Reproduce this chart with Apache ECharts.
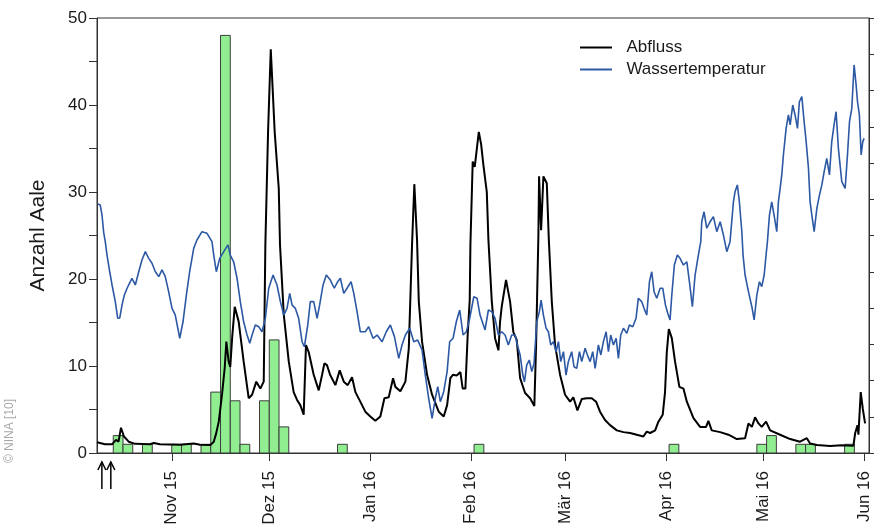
<!DOCTYPE html>
<html><head><meta charset="utf-8">
<script src="https://cdn.jsdelivr.net/npm/echarts@6/dist/echarts.min.js"></script>
<style>html,body{margin:0;padding:0;background:#fff}#c{width:874px;height:528px}</style>
</head><body><div id="c"></div>
<script>
// ---- data ----
const monthTicks = ['2015-11-01','2015-12-01','2016-01-01','2016-02-01','2016-03-01','2016-04-01','2016-05-01','2016-06-01'];
const monthLabels = ['Nov 15','Dez 15','Jan 16','Feb 16','Mär 16','Apr 16','Mai 16','Jun 16'];
const arrowDates = ['2015-10-10 12','2015-10-13 06'];

// eel counts in 3-day bins (start date of each bin)
const binDays = 3;
const binStart = ['2015-10-14','2015-10-17','2015-10-23','2015-11-01','2015-11-04','2015-11-10','2015-11-13','2015-11-16','2015-11-19','2015-11-22','2015-11-28','2015-12-01','2015-12-04','2015-12-22','2016-02-02','2016-04-02','2016-04-29','2016-05-02','2016-05-11','2016-05-14','2016-05-26'];
const aale = [2,1,1,1,1,1,7,48,6,1,6,13,3,1,1,1,1,2,1,1,1];

const abflussZeit = [
'2015-10-09 00','2015-10-11 11','2015-10-13 15','2015-10-14 20','2015-10-15 15','2015-10-16 09','2015-10-17 07','2015-10-18 18','2015-10-20 17','2015-10-25 07',
'2015-10-26 11','2015-10-28 09','2015-11-03 13','2015-11-07 18','2015-11-09 17','2015-11-12 21','2015-11-13 22','2015-11-14 15','2015-11-15 11','2015-11-16 11',
'2015-11-17 07','2015-11-17 19','2015-11-18 12','2015-11-19 00','2015-11-19 15','2015-11-20 09','2015-11-21 14','2015-11-23 03','2015-11-24 16','2015-11-25 17',
'2015-11-27 00','2015-11-28 06','2015-11-29 07','2015-11-29 19','2015-11-30 15','2015-12-01 11','2015-12-02 16','2015-12-03 22','2015-12-04 07','2015-12-05 11',
'2015-12-07 00','2015-12-08 12','2015-12-09 13','2015-12-10 13','2015-12-11 14','2015-12-12 07','2015-12-13 03','2015-12-14 16','2015-12-16 05','2015-12-17 06',
'2015-12-17 23','2015-12-18 18','2015-12-19 17','2015-12-21 08','2015-12-22 16','2015-12-23 22','2015-12-25 03','2015-12-26 11','2015-12-27 12','2015-12-29 00',
'2015-12-30 13','2016-01-01 02','2016-01-02 15','2016-01-04 04','2016-01-05 10','2016-01-06 18','2016-01-08 02','2016-01-08 19','2016-01-10 08','2016-01-11 21',
'2016-01-12 22','2016-01-13 22','2016-01-14 15','2016-01-15 11','2016-01-16 00','2016-01-17 00','2016-01-18 13','2016-01-20 02','2016-01-22 03','2016-01-23 16',
'2016-01-24 17','2016-01-25 17','2016-01-26 13','2016-01-27 16','2016-01-28 19','2016-01-29 12','2016-01-30 08','2016-01-31 01','2016-01-31 16','2016-01-31 21',
'2016-02-01 14','2016-02-02 05','2016-02-03 11','2016-02-04 04','2016-02-04 21','2016-02-05 22','2016-02-06 10','2016-02-07 11','2016-02-08 11','2016-02-09 12',
'2016-02-10 00','2016-02-10 12','2016-02-11 20','2016-02-13 02','2016-02-14 02','2016-02-15 03','2016-02-16 04','2016-02-17 17','2016-02-19 06','2016-02-20 13',
'2016-02-21 02','2016-02-21 19','2016-02-22 00','2016-02-22 15','2016-02-23 08','2016-02-24 09','2016-02-25 00','2016-02-25 22','2016-02-26 22','2016-02-28 11',
'2016-03-01 00','2016-03-02 13','2016-03-03 13','2016-03-04 19','2016-03-06 03','2016-03-07 16','2016-03-09 05','2016-03-10 13','2016-03-11 18','2016-03-13 07',
'2016-03-14 20','2016-03-16 22','2016-03-18 23','2016-03-21 00','2016-03-23 01','2016-03-25 02','2016-03-26 03','2016-03-27 04','2016-03-28 17','2016-03-29 17',
'2016-03-31 01','2016-03-31 18','2016-04-01 07','2016-04-01 22','2016-04-02 20','2016-04-03 20','2016-04-05 04','2016-04-06 10','2016-04-07 11','2016-04-09 12',
'2016-04-11 13','2016-04-13 09','2016-04-14 02','2016-04-15 03','2016-04-17 17','2016-04-20 06','2016-04-22 20','2016-04-25 09','2016-04-26 10','2016-04-27 11',
'2016-04-28 11','2016-04-29 12','2016-04-30 12','2016-05-01 20','2016-05-03 02','2016-05-06 04','2016-05-09 06','2016-05-12 07','2016-05-14 09','2016-05-15 09',
'2016-05-17 11','2016-05-21 13','2016-05-25 03','2016-05-28 17','2016-05-29 06','2016-05-29 23','2016-05-30 06','2016-05-30 23','2016-05-31 14','2016-06-01 07'];
const abflussWert = [
1.23,1.0,1.0,1.5,1.3,2.9,1.9,1.3,1.05,1.0,
1.15,1.0,0.95,1.1,0.95,0.92,1.3,2.2,3.6,6.7,
9.8,12.8,10.5,9.9,13.5,16.8,15.1,10.5,6.3,6.7,
8.2,7.4,8.2,23.9,36.9,46.4,36.9,30.4,24.0,15.9,
10.5,7.0,6.1,5.5,4.4,12.4,11.6,9.0,7.2,9.0,
10.3,10.1,9.0,7.8,9.5,8.2,7.8,8.7,7.0,5.9,
4.75,4.2,3.7,4.2,6.3,6.4,8.6,7.6,7.1,8.2,
12.0,23.9,30.9,24.5,17.4,12.8,9.0,6.7,4.75,4.2,
5.5,8.6,9.0,8.9,9.3,7.4,7.4,13.6,17.6,23.9,
33.5,32.9,36.9,35.5,33.1,30.0,24.5,17.4,13.2,11.8,
15.1,16.8,19.9,17.4,13.9,13.0,8.6,6.9,6.3,5.4,
12.4,25.0,31.8,25.6,31.8,31.0,24.5,17.4,12.4,9.0,
6.7,5.9,6.4,4.9,6.2,6.3,6.3,5.9,4.75,3.8,
3.2,2.6,2.4,2.3,2.1,1.9,2.45,2.3,2.6,3.6,
4.4,7.0,11.6,14.25,13.2,10.5,7.6,7.4,5.9,4.0,
3.0,3.0,3.7,2.6,2.4,2.1,1.6,1.7,3.4,3.0,
4.1,3.4,3.0,3.6,2.6,2.1,1.6,1.3,1.7,1.1,
0.92,0.8,0.9,0.84,2.3,3.2,2.1,7.0,5.1,3.4];

const tempZeit = [
'2015-10-09 07','2015-10-10 00','2015-10-10 13','2015-10-11 01','2015-10-11 13','2015-10-12 02','2015-10-12 22','2015-10-13 15','2015-10-14 15','2015-10-15 09',
'2015-10-16 00','2015-10-16 17','2015-10-17 10','2015-10-18 06','2015-10-19 06','2015-10-19 18','2015-10-20 19','2015-10-21 20','2015-10-22 20','2015-10-23 21',
'2015-10-24 22','2015-10-25 22','2015-10-26 23','2015-10-28 00','2015-10-29 00','2015-10-30 00','2015-10-31 01','2015-11-01 02','2015-11-02 02','2015-11-03 11',
'2015-11-04 11','2015-11-05 12','2015-11-06 12','2015-11-07 18','2015-11-08 18','2015-11-10 07','2015-11-11 20','2015-11-13 09','2015-11-13 22','2015-11-14 17',
'2015-11-15 18','2015-11-17 00','2015-11-18 07','2015-11-19 00','2015-11-20 01','2015-11-21 02','2015-11-22 02','2015-11-23 03','2015-11-24 04','2015-11-25 00',
'2015-11-25 17','2015-11-26 17','2015-11-27 18','2015-11-28 18','2015-11-29 19','2015-11-30 20','2015-12-02 04','2015-12-03 09','2015-12-04 10','2015-12-05 11',
'2015-12-06 11','2015-12-07 07','2015-12-08 00','2015-12-09 00','2015-12-10 01','2015-12-11 02','2015-12-11 19','2015-12-12 20','2015-12-13 15','2015-12-14 16',
'2015-12-15 17','2015-12-16 12','2015-12-17 13','2015-12-18 13','2015-12-19 19','2015-12-21 00','2015-12-22 01','2015-12-22 21','2015-12-23 22','2015-12-24 22',
'2015-12-26 04','2015-12-27 00','2015-12-28 00','2015-12-29 00','2015-12-30 13','2015-12-31 14','2016-01-01 22','2016-01-03 04','2016-01-04 17','2016-01-06 00',
'2016-01-07 06','2016-01-08 12','2016-01-09 20','2016-01-10 20','2016-01-11 21','2016-01-13 05','2016-01-14 11','2016-01-15 16','2016-01-17 00','2016-01-18 00',
'2016-01-19 01','2016-01-20 02','2016-01-21 02','2016-01-21 20','2016-01-22 15','2016-01-23 16','2016-01-24 17','2016-01-25 12','2016-01-26 13','2016-01-27 13',
'2016-01-28 14','2016-01-29 15','2016-01-30 15','2016-01-31 16','2016-02-01 22','2016-02-02 22','2016-02-03 20','2016-02-04 21','2016-02-05 09','2016-02-06 10',
'2016-02-07 11','2016-02-08 11','2016-02-09 12','2016-02-10 12','2016-02-11 13','2016-02-12 13','2016-02-13 14','2016-02-14 15','2016-02-15 08','2016-02-16 04',
'2016-02-17 00','2016-02-17 12','2016-02-18 05','2016-02-19 00','2016-02-19 18','2016-02-20 11','2016-02-21 07','2016-02-22 02','2016-02-22 15','2016-02-23 08',
'2016-02-24 04','2016-02-24 21','2016-02-25 14','2016-02-26 10','2016-02-27 06','2016-02-27 23','2016-02-28 16','2016-02-29 12','2016-03-01 07','2016-03-02 00',
'2016-03-03 01','2016-03-03 18','2016-03-04 14','2016-03-05 10','2016-03-06 03','2016-03-07 04','2016-03-07 21','2016-03-08 17','2016-03-09 12','2016-03-10 06',
'2016-03-11 06','2016-03-12 00','2016-03-12 19','2016-03-13 15','2016-03-14 08','2016-03-15 01','2016-03-15 21','2016-03-16 17','2016-03-17 10','2016-03-18 03',
'2016-03-18 23','2016-03-20 00','2016-03-20 19','2016-03-21 20','2016-03-22 20','2016-03-23 13','2016-03-24 14','2016-03-25 07','2016-03-26 03','2016-03-26 23',
'2016-03-27 16','2016-03-28 09','2016-03-29 05','2016-03-30 06','2016-03-31 01','2016-03-31 21','2016-04-01 14','2016-04-02 07','2016-04-02 20','2016-04-03 15',
'2016-04-04 13','2016-04-05 09','2016-04-06 10','2016-04-07 11','2016-04-08 06','2016-04-09 04','2016-04-10 00','2016-04-11 00','2016-04-11 18','2016-04-12 01',
'2016-04-12 18','2016-04-13 14','2016-04-14 15','2016-04-15 15','2016-04-16 16','2016-04-17 17','2016-04-18 17','2016-04-19 18','2016-04-20 18','2016-04-21 07',
'2016-04-21 19','2016-04-22 07','2016-04-23 00','2016-04-23 15','2016-04-24 09','2016-04-24 18','2016-04-25 09','2016-04-26 10','2016-04-27 11','2016-04-28 04',
'2016-04-29 00','2016-04-29 19','2016-04-30 12','2016-05-01 06','2016-05-01 20','2016-05-02 06','2016-05-02 21','2016-05-03 14','2016-05-04 07','2016-05-05 03',
'2016-05-05 15','2016-05-06 04','2016-05-06 16','2016-05-07 04','2016-05-08 00','2016-05-08 17','2016-05-09 06','2016-05-10 01','2016-05-10 18','2016-05-11 12',
'2016-05-12 02','2016-05-12 20','2016-05-13 13','2016-05-14 04','2016-05-14 21','2016-05-15 09','2016-05-15 22','2016-05-16 15','2016-05-17 11','2016-05-18 06',
'2016-05-19 00','2016-05-19 17','2016-05-20 12','2016-05-21 08','2016-05-22 01','2016-05-22 18','2016-05-23 09','2016-05-24 02','2016-05-25 03','2016-05-26 04',
'2016-05-26 21','2016-05-27 12','2016-05-28 05','2016-05-28 22','2016-05-29 13','2016-05-29 23','2016-05-30 13','2016-05-31 02','2016-05-31 14','2016-06-01 00'];
const tempWert = [
13.74,13.68,13.13,12.19,11.66,10.92,10.00,9.27,8.35,7.43,
7.45,8.17,8.72,9.09,9.45,9.64,9.27,10.00,10.65,11.11,
10.74,10.47,10.00,9.73,10.10,9.73,8.90,7.98,7.61,6.33,
7.24,8.72,10.00,11.29,11.75,12.21,12.12,11.66,10.92,10.00,
10.74,11.11,11.48,10.92,10.55,9.64,8.35,7.24,6.51,6.05,
6.51,7.06,6.97,6.69,7.43,9.09,9.82,9.27,8.35,7.61,
7.98,8.81,8.17,7.98,7.43,6.14,5.86,7.06,8.35,8.35,
7.43,8.17,9.27,9.82,9.54,9.09,9.45,9.64,8.81,9.09,
9.45,8.81,7.80,6.69,6.69,6.97,6.33,6.51,6.14,6.69,
7.06,6.42,5.22,5.96,6.51,6.88,6.14,6.23,5.68,4.30,
3.02,1.91,3.02,3.66,2.83,3.38,4.49,6.14,6.33,7.24,
7.89,6.51,6.69,7.43,8.62,8.54,7.61,7.06,6.79,7.89,
7.80,7.43,6.51,6.69,6.51,5.96,6.51,6.51,5.96,5.41,
4.30,3.93,4.86,5.13,4.49,4.95,7.24,7.80,8.44,7.61,
6.88,6.69,5.96,6.14,5.59,6.14,5.04,5.59,4.30,5.04,
5.59,4.76,4.67,5.59,5.04,5.78,5.41,5.04,5.59,4.67,
5.96,5.41,6.14,6.69,5.59,6.51,5.96,6.33,5.22,6.51,
6.88,6.60,7.06,6.97,7.43,8.54,8.35,7.98,7.61,9.45,
10.00,8.90,8.54,9.09,9.09,8.17,7.71,7.34,8.72,10.37,
10.92,10.74,10.37,10.55,9.45,8.07,9.82,10.92,11.66,12.76,
13.31,12.40,12.76,13.04,12.21,12.76,12.03,11.11,11.66,11.66,
13.86,14.42,14.79,13.86,12.21,10.92,9.82,8.90,8.07,7.34,
8.72,9.45,9.18,9.82,10.92,11.66,13.13,13.86,13.13,12.21,
13.86,14.60,15.34,16.44,17.91,18.65,18.10,19.20,18.65,17.91,
19.38,19.66,18.28,17.18,15.71,13.86,13.13,12.21,13.50,14.23,
14.79,15.52,16.26,15.34,17.18,18.10,18.83,16.81,14.97,14.60,
16.44,18.28,19.02,21.41,20.30,19.38,18.65,16.44,17.18,17.36];

// ---- helpers ----
function ts(s){const parts=s.split(' ');const p=parts[0].split('-').map(Number);return Date.UTC(p[0],p[1]-1,p[2],parts[1]?Number(parts[1]):0);}
const xMin = ts('2015-10-09'), xMax = ts('2016-06-02 12');
const tickTs = monthTicks.map(ts);
const FONT = '"Liberation Sans", Arial, sans-serif';
const TXT = '#1a1a1a';

const chart = echarts.init(document.getElementById('c'));
chart.setOption({
  animation: false,
  useUTC: true,
  backgroundColor: '#fff',
  grid: {left: 97, right: 5, top: 18, bottom: 75, show: true, borderColor: '#333', borderWidth: 1, backgroundColor: 'transparent'},
  legend: {
    data: [{name: 'Abfluss', icon: 'rect'}, {name: 'Wassertemperatur', icon: 'rect'}],
    orient: 'vertical', left: 580, top: 39, padding: 0,
    itemWidth: 32, itemHeight: 2, itemGap: 5,
    formatter: n => '  ' + n,
    textStyle: {fontFamily: FONT, fontSize: 17, lineHeight: 17, color: TXT}
  },
  xAxis: {
    type: 'value', min: xMin, max: xMax,
    axisLine: {show: true, lineStyle: {color: '#333', width: 1}},
    axisTick: {show: true, length: 8, customValues: tickTs, lineStyle: {color: '#333'}},
    axisLabel: {customValues: tickTs, rotate: 90, margin: 18, fontFamily: FONT, fontSize: 17, color: TXT,
      formatter: v => { const i = tickTs.indexOf(v); return i >= 0 ? monthLabels[i] : ''; }},
    splitLine: {show: false}
  },
  yAxis: [
    {type: 'value', min: 0, max: 50, position: 'left',
     name: 'Anzahl Aale', nameLocation: 'middle', nameGap: 48,
     nameTextStyle: {fontFamily: FONT, fontSize: 21, color: TXT},
     axisLine: {show: true, lineStyle: {color: '#333'}},
     axisTick: {show: true, length: 8, customValues: [0,5,10,15,20,25,30,35,40,45,50], lineStyle: {color: '#333'}},
     axisLabel: {customValues: [0,10,20,30,40,50], margin: 10, fontFamily: FONT, fontSize: 17, color: TXT},
     splitLine: {show: false}},
    {type: 'value', min: 0, max: 24, interval: 2, position: 'right',
     axisLine: {show: true, lineStyle: {color: '#333'}},
     axisTick: {show: true, length: 5, lineStyle: {color: '#333'}},
     axisLabel: {show: false}, splitLine: {show: false}},
    {type: 'value', min: 0, max: 50, show: false, splitLine: {show: false}}
  ],
  series: [
    {type: 'custom', name: 'Aale', yAxisIndex: 0, z: 1,
     data: binStart.map((s, i) => [ts(s), ts(s) + binDays * 86400000, aale[i]]),
     encode: {x: [0, 1], y: 2},
     renderItem: (params, api) => {
       const p0 = api.coord([api.value(0), api.value(2)]);
       const p1 = api.coord([api.value(1), 0]);
       return {type: 'rect', shape: {x: p0[0], y: p0[1], width: p1[0] - p0[0], height: p1[1] - p0[1]},
               style: {fill: '#90ee90', stroke: '#3c3c3c', lineWidth: 1}};
     }},
    {type: 'line', name: 'Abfluss', yAxisIndex: 2, z: 3, symbol: 'none', showSymbol: false,
     data: abflussZeit.map((t, i) => [ts(t), abflussWert[i]]),
     lineStyle: {color: '#000', width: 2}, itemStyle: {color: '#000'}},
    {type: 'line', name: 'Wassertemperatur', yAxisIndex: 1, z: 4, symbol: 'none', showSymbol: false,
     data: tempZeit.map((t, i) => [ts(t), tempWert[i]]),
     lineStyle: {color: '#2c58a4', width: 1.6}, itemStyle: {color: '#2c58a4'}}
  ]
});

// copyright + arrows below the axis, placed via the x scale
const yBase = chart.convertToPixel({yAxisIndex: 0}, 0);
const arrowEls = arrowDates.map(d => {
  const x = chart.convertToPixel({xAxisIndex: 0}, ts(d));
  return {type: 'group', children: [
    {type: 'line', shape: {x1: x, y1: yBase + 9, x2: x, y2: yBase + 36}, style: {stroke: '#000', lineWidth: 1.5}},
    {type: 'polyline', shape: {points: [[x - 4, yBase + 17], [x, yBase + 9], [x + 4, yBase + 17]]}, style: {stroke: '#000', lineWidth: 1.5, fill: null}}
  ]};
});
chart.setOption({graphic: [
  {type: 'text', x: 10, y: 431, rotation: Math.PI / 2,
   style: {text: '© NINA [10]', fill: '#a8a8a8', font: '12px ' + FONT, align: 'center', verticalAlign: 'middle'}}
].concat(arrowEls)});
</script>
</body></html>
